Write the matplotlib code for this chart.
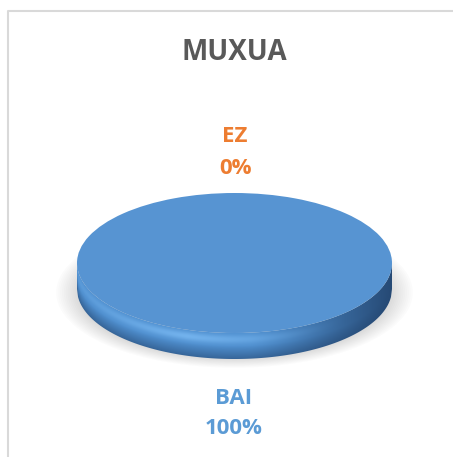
import matplotlib
matplotlib.use("Agg")
import matplotlib.pyplot as plt
import numpy as np
from matplotlib.patches import Ellipse, Polygon

# Data
title = "MUXUA"
labels = ["BAI", "EZ"]
values = [100, 0]
colors = ["#5794d2", "#ed7d31"]
label_colors = ["#5b9bd5", "#ed7d31"]

W, H = 454, 457
fig = plt.figure(figsize=(W / 100, H / 100), dpi=100)
plt.rcParams["font.family"] = ["Open Sans", "DejaVu Sans"]

# background axes in pixel coords (frame + texts)
bg = fig.add_axes([0, 0, 1, 1])
bg.set_xlim(0, W)
bg.set_ylim(H, 0)
bg.axis("off")
bg.plot([7.5, 7.5, 453], [H, 10.5, 10.5], color="#d9d9d9", lw=1.5, solid_capstyle="butt")

bg.text(234, 52, title, ha="center", va="center", fontsize=20, fontweight="bold", color="#595959")

# pie axes: unit circle -> ellipse rx=157.5px, ry=70px
cx, cy, rx, ry = 234.5, 263, 157.5, 70
xl, xr, yb, yt = -1.2, 1.2, -1.7, 1.2
left = cx + xl * rx
ax = fig.add_axes([left / W, (H - (cy - yb * ry)) / H, (xr - xl) * rx / W, (yt - yb) * ry / H])

t = 26 / ry  # thickness in unit coords

# soft shadow
for i in range(12):
    s = 1.0 + i * 0.012
    ax.add_patch(Ellipse((0, -t - 0.05), 2 * s, 2 * s * 0.95, color="#7f7f7f", alpha=0.025, lw=0, zorder=1))

# side with gradient
xs = np.linspace(-1, 1, 300)
ytop = -np.sqrt(np.clip(1 - xs ** 2, 0, 1))
side = np.concatenate([np.c_[xs, ytop], np.c_[xs[::-1], ytop[::-1] - t]])
poly = Polygon(side, closed=True, facecolor="none", edgecolor="none", zorder=2)
ax.add_patch(poly)

gx = np.linspace(-1, 1, 400)
gy = np.linspace(0.05, -1 - t, 300)
GX, GY = np.meshgrid(gx, gy)
YT = -np.sqrt(np.clip(1 - GX ** 2, 0, 1))
v = np.clip((YT - GY) / t, 0, 1)
c_light = np.array([0.45, 0.70, 0.93])
c_mid = np.array([0.31, 0.56, 0.81])
c_dark = np.array([0.15, 0.29, 0.46])
h = np.clip((GX - 0.1) / 0.9, 0, 1) ** 1.2
img = np.empty(GX.shape + (3,))
for k in range(3):
    base = c_mid[k] * (1 - h) + c_dark[k] * h
    hl = np.exp(-((v - 0.25) / 0.18) ** 2) * (1 - h) * np.clip(1 - np.abs(GX + 0.3), 0, 1)
    dk = np.clip((v - 0.5) / 0.5, 0, 1) * 0.6
    col = base + (c_light[k] - base) * hl
    col = col + (c_dark[k] - col) * dk
    img[..., k] = col
im = ax.imshow(img, extent=(-1, 1, -1 - t, 0.05), aspect="auto", zorder=2, interpolation="bilinear")
im.set_clip_path(poly)

# top face from the data
wedges, _ = ax.pie(values, colors=colors, radius=1, center=(0, 0), startangle=90,
                   counterclock=False, frame=True, wedgeprops=dict(lw=0))
for w in wedges:
    w.set_zorder(3)
ax.set_xlim(xl, xr)
ax.set_ylim(yb, yt)
ax.set_aspect("auto")
ax.axis("off")

# data labels
total = sum(values)
pos = {"BAI": (234, 398), "EZ": (235, 137)}
for lab, val, c in zip(labels, values, label_colors):
    x, y = pos[lab]
    bg.text(x, y, lab, ha="center", va="center", fontsize=16, fontweight="bold", color=c)
    bg.text(x, y + 31, "%d%%" % round(val / total * 100), ha="center", va="center",
            fontsize=16, fontweight="bold", color=c)

fig.savefig("out.png", dpi=100)
